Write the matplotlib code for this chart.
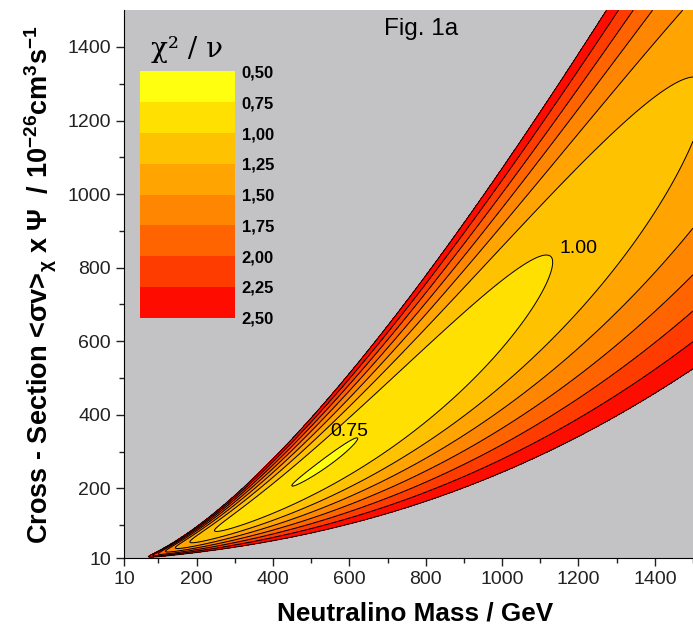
import matplotlib
matplotlib.use("Agg")
import matplotlib.pyplot as plt
import numpy as np

plt.rcParams['font.family'] = ['Liberation Sans', 'DejaVu Sans']
plt.rcParams['mathtext.fontset'] = 'custom'
plt.rcParams['mathtext.rm'] = 'Liberation Sans'
plt.rcParams['mathtext.it'] = 'Liberation Sans:italic'
plt.rcParams['mathtext.bf'] = 'Liberation Sans:bold'
plt.rcParams['mathtext.default'] = 'bf'

levels = [0.50, 0.75, 1.00, 1.25, 1.50, 1.75, 2.00, 2.25, 2.50]
band_colors = ['#ffff10', '#ffe000', '#ffc200', '#ffa400', '#ff8600',
               '#ff6400', '#ff3c00', '#ff0c00']
level_labels = ['0,50', '0,75', '1,00', '1,25', '1,50', '1,75', '2,00', '2,25', '2,50']

x_ticks = [10, 200, 400, 600, 800, 1000, 1200, 1400]
y_ticks = [10, 200, 400, 600, 800, 1000, 1200, 1400]

# fit surface: valley s0 = S_REF*(m/M_REF)^P,
# minimum along valley C0 + K*(ln m - L0)^2, parabola width WR*s0
S_REF = 265.0
M_REF = 530.0
P = 1.48
C0 = 0.738
K = 0.451
L0 = 6.27
WR_UP = 0.46
WR_LO = 0.51

m = np.linspace(10, 1500, 700)
s = np.linspace(10, 1500, 700)
M, S = np.meshgrid(m, s)
s0 = S_REF * (M / M_REF) ** P
cmin = C0 + K * (np.log(M) - L0) ** 2
width = np.where(S > s0, WR_UP, WR_LO) * s0
chi2 = cmin + ((S - s0) / width) ** 2

fig = plt.figure(figsize=(6.93, 6.38), dpi=100)
ax = fig.add_axes([0.179, 0.125, 0.821, 0.859])
ax.set_facecolor('#c3c3c5')

cf = ax.contourf(M, S, chi2, levels=levels, colors=band_colors)
ax.contour(M, S, chi2, levels=levels[1:], colors='black', linewidths=0.7)

ax.text(1150, 853, '1.00', fontsize=14, va='center')
ax.text(550, 355, '0.75', fontsize=14, va='center')
ax.text(690, 1450, 'Fig. 1a', fontsize=17.5, va='center')

ax.set_xlim(10, 1500)
ax.set_ylim(10, 1500)
ax.set_xticks(x_ticks)
ax.set_yticks(y_ticks)
ax.set_xticks([100, 300, 500, 700, 900, 1100, 1300, 1500], minor=True)
ax.set_yticks([100, 300, 500, 700, 900, 1100, 1300], minor=True)
ax.tick_params(which='major', length=6, width=1, labelsize=14, colors='#222222')
ax.tick_params(which='minor', length=3.5, width=1, colors='#222222')
ax.spines['top'].set_visible(False)
ax.spines['right'].set_visible(False)

ax.set_xlabel('Neutralino Mass / GeV', fontsize=18.8, fontweight='bold')
ax.xaxis.set_label_coords(0.512, -0.079)
ax.set_ylabel(r'Cross - Section <$\sigma$v>$_\chi$ x $\Psi$  / 10$^{-26}$cm$^3$s$^{-1}$',
              fontsize=19.5, fontweight='bold', labelpad=6)

cax = fig.add_axes([0.202, 0.502, 0.137, 0.386])
cb = fig.colorbar(cf, cax=cax, ticks=levels)
cax.invert_yaxis()
cb.outline.set_visible(False)
cb.set_ticklabels(level_labels)
cax.tick_params(length=0, labelsize=12, pad=5)
for t in cax.get_yticklabels():
    t.set_fontweight('bold')
fig.text(0.27, 0.923, 'χ² / ν', fontsize=20, ha='center', va='center',
         family='DejaVu Serif')

fig.savefig('out.png', dpi=100)
